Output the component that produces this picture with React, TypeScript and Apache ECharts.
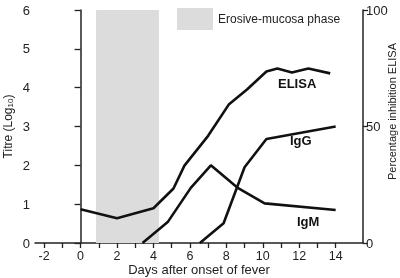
import React, { useEffect, useRef } from "react";
import * as echarts from "echarts";

const xTicks = [-2, -1, 0, 1, 2, 3, 4, 5, 6, 7, 8, 9, 10, 11, 12, 13, 14];
const xLabels = [-2, 0, 2, 4, 6, 8, 10, 12, 14];

const elisaDays = [0, 2, 4, 5.1, 5.7, 7, 8.15, 9.15, 10.2, 10.8, 11.6, 12.5, 13.7];
const elisaPct = [14.5, 10.6, 14.9, 23.4, 33.2, 46, 59.6, 66, 73.6, 74.9, 73.2, 74.9, 72.8];

const iggDays = [6.55, 7.85, 9, 10.2, 14];
const iggTitre = [0, 0.51, 1.95, 2.68, 3.0];

const igmDays = [3.4, 4.8, 6.05, 7.15, 8.65, 10.1, 14];
const igmTitre = [0, 0.55, 1.42, 2.0, 1.41, 1.02, 0.85];

const phaseName = "Erosive-mucosa phase";
const phaseStart = 0.85;
const phaseEnd = 4.3;

const FONT = "Liberation Sans, Arial, Helvetica, sans-serif";

export default function App() {
  const ref = useRef<HTMLDivElement>(null);
  useEffect(() => {
    if (!ref.current) return;
    const chart = echarts.init(ref.current, undefined, { renderer: "svg" });
    const zip = (a: number[], b: number[]) => a.map((v, i) => [v, b[i]]);
    const lineStyle = { color: "#111", width: 2.6 };
    chart.setOption({
      animation: false,
      textStyle: { fontFamily: FONT, color: "#222" },
      grid: { left: 35, right: 37, top: 10, bottom: 35, outerBoundsMode: "none", containLabel: false },
      legend: {
        data: [{ name: phaseName, icon: "rect", itemStyle: { color: "#dcdcdc" } }],
        left: 177,
        top: 8,
        padding: 0,
        itemWidth: 36,
        itemHeight: 22,
        itemGap: 5,
        selectedMode: false,
        textStyle: { fontSize: 12, color: "#222", fontFamily: FONT },
      },
      xAxis: {
        type: "value",
        min: -2.5,
        max: 15.5,
        name: "Days after onset of fever",
        nameLocation: "middle",
        nameGap: 20,
        nameMoveOverlap: false,
        nameTextStyle: { fontSize: 13, color: "#222" },
        splitLine: { show: false },
        axisLine: { show: true, onZero: false, lineStyle: { color: "#222", width: 1.5 } },
        axisTick: { show: true, customValues: xTicks, length: 5, lineStyle: { color: "#222", width: 1.3 } },
        axisLabel: { customValues: xLabels, fontSize: 12.5, color: "#222", margin: 6 },
      },
      yAxis: [
        {
          type: "value",
          min: 0,
          max: 6,
          interval: 1,
          name: "Titre (Log{s|10})",
          nameLocation: "middle",
          nameRotate: 90,
          nameGap: 21,
          nameMoveOverlap: false,
          nameTextStyle: {
            fontSize: 12,
            color: "#222",
            rich: { s: { fontSize: 8, verticalAlign: "bottom", padding: [5, 0, 0, 0], color: "#222" } },
          },
          splitLine: { show: false },
          axisLine: { show: true, lineStyle: { color: "#222", width: 1.5 } },
          axisTick: { show: true, length: 6, lineStyle: { color: "#222", width: 1.3 } },
          axisLabel: { fontSize: 13, color: "#222", margin: 5 },
        },
        {
          type: "value",
          min: 0,
          max: 100,
          interval: 50,
          position: "right",
          name: "Percentage inhibition ELISA",
          nameLocation: "middle",
          nameRotate: 90,
          nameGap: 23,
          nameMoveOverlap: false,
          nameTextStyle: { fontSize: 11, color: "#222", padding: [0, 0, 0, 30] },
          splitLine: { show: false },
          axisLine: { show: true, lineStyle: { color: "#222", width: 1.5 } },
          axisTick: { show: true, length: 5, lineStyle: { color: "#222", width: 1.3 } },
          axisLabel: { fontSize: 13, color: "#222", margin: 3 },
        },
      ],
      series: [
        {
          name: phaseName,
          type: "line",
          data: [],
          itemStyle: { color: "#dcdcdc" },
          markArea: {
            silent: true,
            itemStyle: { color: "#dcdcdc" },
            data: [[{ xAxis: phaseStart }, { xAxis: phaseEnd }]],
          },
        },
        {
          name: "ELISA",
          type: "line",
          yAxisIndex: 1,
          data: zip(elisaDays, elisaPct),
          showSymbol: false,
          lineStyle,
          itemStyle: { color: "#111" },
        },
        {
          name: "IgG",
          type: "line",
          data: zip(iggDays, iggTitre),
          showSymbol: false,
          lineStyle,
          itemStyle: { color: "#111" },
        },
        {
          name: "IgM",
          type: "line",
          data: zip(igmDays, igmTitre),
          showSymbol: false,
          lineStyle,
          itemStyle: { color: "#111" },
        },
      ],
      graphic: [
        { type: "text", left: 278, top: 77, style: { text: "ELISA", font: `bold 13px ${FONT}`, fill: "#111" } },
        { type: "text", left: 290, top: 134, style: { text: "IgG", font: `bold 13px ${FONT}`, fill: "#111" } },
        { type: "text", left: 297, top: 215, style: { text: "IgM", font: `bold 13px ${FONT}`, fill: "#111" } },
      ],
    });
    return () => chart.dispose();
  }, []);
  return <div ref={ref} style={{ position: "fixed", left: 0, top: 0, width: 400, height: 278 }} />;
}
